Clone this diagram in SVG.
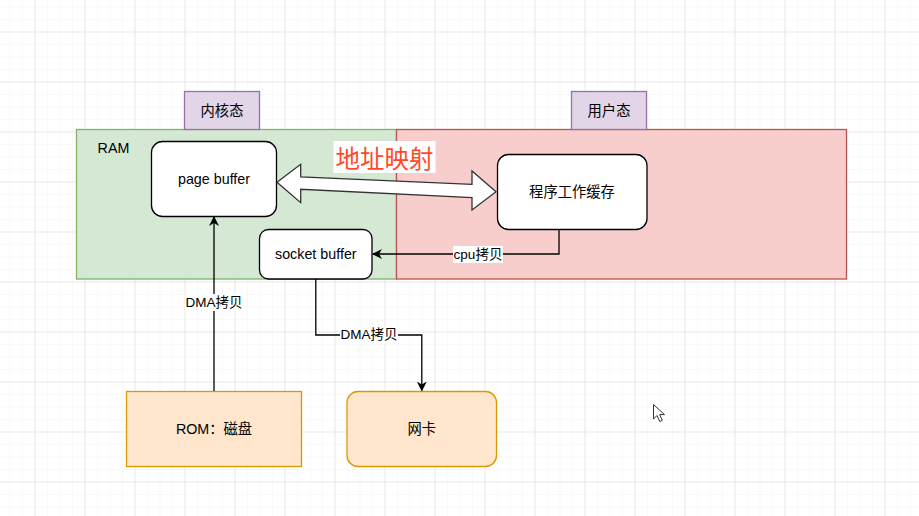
<svg xmlns="http://www.w3.org/2000/svg" width="919" height="516" viewBox="0 0 919 516">
  <defs>
    <pattern id="minor" x="9.5" y="6.5" width="12.5" height="12.5" patternUnits="userSpaceOnUse">
      <path d="M0 0V12.5M0 0H12.5" fill="none" stroke="#f3f3f3" stroke-width="1"/>
    </pattern>
    <pattern id="major" x="34.5" y="31.5" width="50" height="50" patternUnits="userSpaceOnUse">
      <path d="M0 0V50M0 0H50" fill="none" stroke="#dcdcdc" stroke-width="1"/>
    </pattern>
    <marker id="arr" viewBox="0 0 10 10" refX="9" refY="5" markerWidth="10" markerHeight="10" markerUnits="userSpaceOnUse" orient="auto">
      <path d="M0 0L10 5L0 10L3 5Z" fill="#000"/>
    </marker>
  </defs>
  <style>
    .t{font-family:"Liberation Sans","Noto Sans CJK SC",Arial,sans-serif;font-size:14.3px;fill:#000;text-anchor:middle;dominant-baseline:central}
    .lbl{font-family:"Liberation Sans","Noto Sans CJK SC",Arial,sans-serif;font-size:13.5px;fill:#000;text-anchor:middle;dominant-baseline:central}
    .white{fill:#fff;stroke:#000;stroke-width:1.3}
    .purple{fill:#e1d5e7;stroke:#9673a6;stroke-width:1.3}
    .orange{fill:#ffe6cc;stroke:#d79b00;stroke-width:1.3}
    .edge{fill:none;stroke:#000;stroke-width:1.3}
  </style>
  <rect width="919" height="516" fill="#fff"/>
  <rect width="919" height="516" fill="url(#minor)"/>
  <rect width="919" height="516" fill="url(#major)"/>

  <g id="ram">
    <rect x="76.5" y="129.5" width="320" height="149.5" fill="#d5e8d4" stroke="#82b366" stroke-width="1.3"/>
    <text class="t" x="113.5" y="148">RAM</text>
  </g>
  <g id="user-area">
    <rect x="396.5" y="129.5" width="450" height="149.5" fill="#f8cecc" stroke="#b85450" stroke-width="1.3"/>
  </g>
  <g id="kernel-label">
    <rect class="purple" x="184.5" y="91.5" width="75" height="38"/>
    <text class="t" x="222" y="110.5">内核态</text>
  </g>
  <g id="user-label">
    <rect class="purple" x="571.5" y="91.5" width="75" height="38"/>
    <text class="t" x="609" y="110.5">用户态</text>
  </g>
  <g id="page-buffer">
    <rect class="white" x="151.5" y="141.5" width="125" height="75" rx="11"/>
    <text class="t" x="214" y="179">page buffer</text>
  </g>
  <g id="socket-buffer">
    <rect class="white" x="259.5" y="229.5" width="112.5" height="49.5" rx="9"/>
    <text class="t" x="315.8" y="254">socket buffer</text>
  </g>
  <g id="program-cache">
    <rect class="white" x="497.5" y="154.5" width="149.5" height="75" rx="11"/>
    <text class="t" x="572" y="192">程序工作缓存</text>
  </g>
  <g id="rom">
    <rect class="orange" x="126.5" y="391.5" width="175" height="75"/>
    <text class="t" x="214" y="429">ROM：磁盘</text>
  </g>
  <g id="nic">
    <rect class="orange" x="347" y="391.5" width="149.5" height="75" rx="11"/>
    <text class="t" x="421.8" y="429">网卡</text>
  </g>

  <g id="connectors">
    <polygon points="277,182.3 300.7,164.3 300.7,177 472,184.3 472,171 496,191.7 472,210 472,197.7 300.7,189.3 300.7,202.7" fill="#fff" stroke="#333" stroke-width="1.3" stroke-linejoin="miter"/>
    <rect x="333.5" y="141" width="102" height="32" fill="#fff"/>
    <text x="384.5" y="157.5" font-family="'Noto Sans CJK SC','Liberation Sans',sans-serif" font-size="24.5" fill="#ff4a2a" text-anchor="middle" dominant-baseline="central">地址映射</text>

    <path class="edge" d="M559 229.5V254H373" marker-end="url(#arr)"/>
    <rect x="453" y="246" width="50" height="17" fill="#fff"/>
    <text class="lbl" x="478" y="254">cpu拷贝</text>

    <path class="edge" d="M214 391V217" marker-end="url(#arr)"/>
    <rect x="185" y="294" width="58" height="17" fill="#fff"/>
    <text class="lbl" x="214" y="302.5">DMA拷贝</text>

    <path class="edge" d="M315.8 279V335H421.8V390.5" marker-end="url(#arr)"/>
    <rect x="340" y="327" width="58" height="17" fill="#fff"/>
    <text class="lbl" x="369" y="334.5">DMA拷贝</text>
  </g>

  <path d="M653.5 404.5V419L657 415.5L659.8 421.5L662.3 420.3L659.6 414.6L664.5 414.6Z" fill="#fff" stroke="#333" stroke-width="1" stroke-linejoin="round"/>
</svg>
